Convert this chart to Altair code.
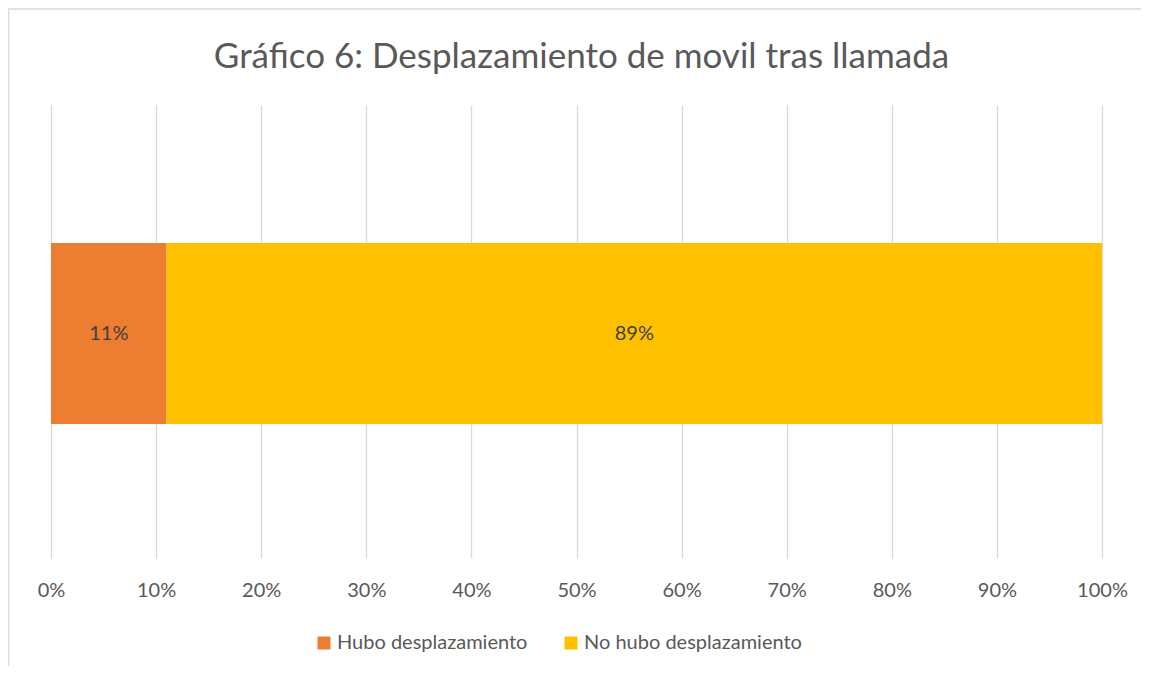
import altair as alt
import pandas as pd

categories = ["Hubo desplazamiento", "No hubo desplazamiento"]
values = [0.11, 0.89]
labels = ["11%", "89%"]
colors = ["#ED7D31", "#FFC000"]
ticks = [0, 0.1, 0.2, 0.3, 0.4, 0.5, 0.6, 0.7, 0.8, 0.9, 1.0]

df = pd.DataFrame({
    "serie": categories,
    "valor": values,
    "etiqueta": labels,
    "orden": list(range(len(categories))),
    "fila": ["A"] * len(categories),
})

FONT = "Lato"

base = alt.Chart(df).transform_stack(
    stack="valor", groupby=["fila"], as_=["v0", "v1"],
    sort=[alt.SortField("orden", order="ascending")]
).transform_calculate(mid="(datum.v0 + datum.v1) / 2")

bars = base.mark_bar(size=181, yOffset=2).encode(
    x=alt.X("v0:Q", scale=alt.Scale(domain=[0, 1], nice=False),
            axis=alt.Axis(values=ticks, format=".0%", title=None, domain=False,
                          ticks=False, labelPadding=22, labelFontSize=20,
                          labelColor="#595959", labelFont=FONT,
                          labelFlush=False, labelOverlap=False,
                          gridColor="#D9D9D9", gridWidth=1.3)),
    x2="v1:Q",
    y=alt.Y("fila:N", axis=None),
    color=alt.Color("serie:N", scale=alt.Scale(domain=categories, range=colors),
                    legend=alt.Legend(title=None, orient="none", direction="horizontal",
                                      legendX=263, legendY=528, symbolType="square",
                                      symbolSize=169, symbolStrokeWidth=0,
                                      labelFontSize=20, labelFont=FONT, labelLimit=0,
                                      labelColor="#595959", labelOffset=3,
                                      columnPadding=33, symbolOpacity=1)),
)

text = base.mark_text(fontSize=20, font=FONT, color="#404040", dy=2).encode(
    x=alt.X("mid:Q"),
    y=alt.Y("fila:N", axis=None),
    text="etiqueta:N",
)

border_df = pd.DataFrame({"k": [0]})
top_line = alt.Chart(border_df).mark_rule(color="#D9D9D9", strokeWidth=1.5).encode(
    x=alt.value(-43), x2=alt.value(1098), y=alt.value(-96)
)
left_line = alt.Chart(border_df).mark_rule(color="#D9D9D9", strokeWidth=1.5).encode(
    x=alt.value(-42.5), y=alt.value(-96), y2=alt.value(569)
)

chart = alt.layer(bars, text, top_line, left_line).properties(
    width=1051, height=453,
    autosize=alt.AutoSizeParams(type="none"),
    padding={"left": 43, "top": 97, "right": 39, "bottom": 108},
    title=alt.TitleParams("Gráfico 6: Desplazamiento de movil tras llamada",
                          fontSize=35, font=FONT, fontWeight="normal",
                          color="#595959", anchor="middle",
                          offset=-67, dx=5),
).configure_view(stroke=None).configure_axis(grid=True)

chart.save("out.html", embed_options={"renderer": "svg", "actions": False})
